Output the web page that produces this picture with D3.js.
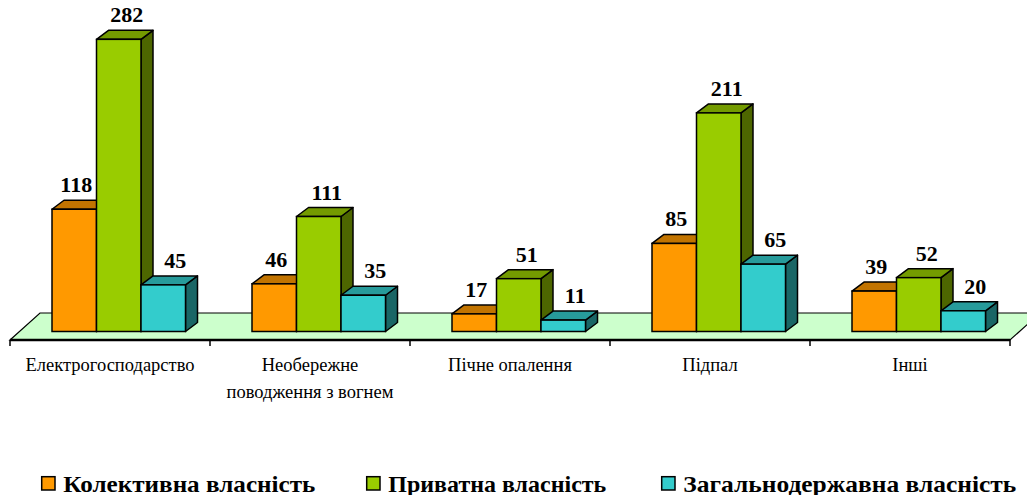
<!DOCTYPE html>
<html>
<head>
<meta charset="utf-8">
<script src="https://cdn.jsdelivr.net/npm/d3@7"></script>
<style>
  html, body { margin: 0; padding: 0; background: #fff; }
  svg { display: block; }
  svg text { font-family: "Liberation Serif", "Times New Roman", serif; }
</style>
</head>
<body>
<div id="chart"></div>
<script>
// ---- data ----
const categories = ["Електрогосподарство", "Необережне\nповодження з вогнем", "Пічне опалення", "Підпал", "Інші"];
const seriesNames = ["Колективна власність", "Приватна власність", "Загальнодержавна власність"];
const collective = [118, 46, 17, 85, 39];
const privateOwn = [282, 111, 51, 211, 52];
const stateOwn = [45, 35, 11, 65, 20];
const seriesColors = ["#FF9900", "#99CC00", "#33CCCC"];

const seriesValues = [collective, privateOwn, stateOwn];

// ---- layout ----
const W = 1027, H = 495;
const svg = d3.select("#chart").append("svg").attr("width", W).attr("height", H);

const floorFrontY = 340, floorDx = 30, floorDy = 27;
const baseY = 331.5;
const dx = 12, dy = 9;

const x0 = d3.scaleBand().domain(categories).range([10, 1010]).padding(0);
const x1 = d3.scaleBand().domain(seriesNames).range([0, 133.5]).padding(0);
const groupOffset = 42;
const y = d3.scaleLinear().domain([0, 300]).range([baseY, baseY - 300 * 1.036]);

// floor
const fx0 = x0.range()[0], fx1 = x0.range()[1];
svg.append("path")
  .attr("d", `M${fx0},${floorFrontY} L${fx0 + floorDx},${floorFrontY - floorDy} L${fx1 + floorDx},${floorFrontY - floorDy} L${fx1},${floorFrontY} Z`)
  .attr("fill", "#CCFFCC").attr("stroke", "#000").attr("stroke-width", 1.2);

// bars
const shade = (c, k) => { const r = d3.rgb(c); return d3.rgb(r.r * k, r.g * k, r.b * k).formatHex(); };

categories.forEach((cat, ci) => {
  seriesNames.forEach((s, si) => {
    const v = seriesValues[si][ci];
    const x = x0(cat) + groupOffset + x1(s);
    const w = x1.bandwidth();
    const yt = y(v);
    const g = svg.append("g");
    const col = seriesColors[si];
    g.append("path")
      .attr("d", `M${x + w},${yt} L${x + w + dx},${yt - dy} L${x + w + dx},${baseY - dy} L${x + w},${baseY} Z`)
      .attr("fill", shade(col, 0.5)).attr("stroke", "#000").attr("stroke-width", 1.5).attr("stroke-linejoin", "round");
    g.append("path")
      .attr("d", `M${x},${yt} L${x + dx},${yt - dy} L${x + w + dx},${yt - dy} L${x + w},${yt} Z`)
      .attr("fill", shade(col, 0.76)).attr("stroke", "#000").attr("stroke-width", 1.5).attr("stroke-linejoin", "round");
    g.append("rect")
      .attr("x", x).attr("y", yt).attr("width", w).attr("height", baseY - yt)
      .attr("fill", col).attr("stroke", "#000").attr("stroke-width", 1.5);
  });
});

// value labels
const labelShift = [2, 8, 12];
categories.forEach((cat, ci) => {
  seriesNames.forEach((s, si) => {
    const v = seriesValues[si][ci];
    const x = x0(cat) + groupOffset + x1(s) + x1.bandwidth() / 2 + labelShift[si];
    svg.append("text")
      .attr("x", x).attr("y", y(v) - 17)
      .attr("text-anchor", "middle")
      .attr("font-weight", "bold").attr("font-size", 22)
      .attr("fill", "#000")
      .text(v);
  });
});

// axis (front floor edge)
const axisG = svg.append("g").attr("transform", `translate(0,${floorFrontY})`);
axisG.append("line").attr("x1", fx0).attr("x2", fx1).attr("y1", 0).attr("y2", 0)
  .attr("stroke", "#000").attr("stroke-width", 2.5);
const tickXs = categories.map(c => x0(c)).concat([fx1]);
axisG.selectAll("line.tick").data(tickXs).enter().append("line")
  .attr("class", "tick")
  .attr("x1", d => d).attr("x2", d => d).attr("y1", 0).attr("y2", 6)
  .attr("stroke", "#000").attr("stroke-width", 1.5);

// category labels
categories.forEach(cat => {
  const lines = cat.split("\n");
  const t = svg.append("text")
    .attr("text-anchor", "middle")
    .attr("font-size", 18.5).attr("fill", "#000");
  lines.forEach((ln, i) => {
    t.append("tspan").attr("x", x0(cat) + x0.bandwidth() / 2).attr("y", 370.7 + i * 27).text(ln);
  });
});

// legend
const legendX = [41.7, 366.7, 661.7];
const legendTextW = [252, 218, 333];
seriesNames.forEach((s, si) => {
  const g = svg.append("g").attr("transform", `translate(${legendX[si]},476.7)`);
  g.append("rect").attr("width", 13.3).attr("height", 13.3)
    .attr("fill", seriesColors[si]).attr("stroke", "#000").attr("stroke-width", 1.5);
  g.append("text").attr("x", 21.6).attr("y", 14.8)
    .attr("font-weight", "bold").attr("font-size", 22.5).attr("fill", "#000")
    .attr("textLength", legendTextW[si]).attr("lengthAdjust", "spacingAndGlyphs")
    .text(s);
});
</script>
</body>
</html>
